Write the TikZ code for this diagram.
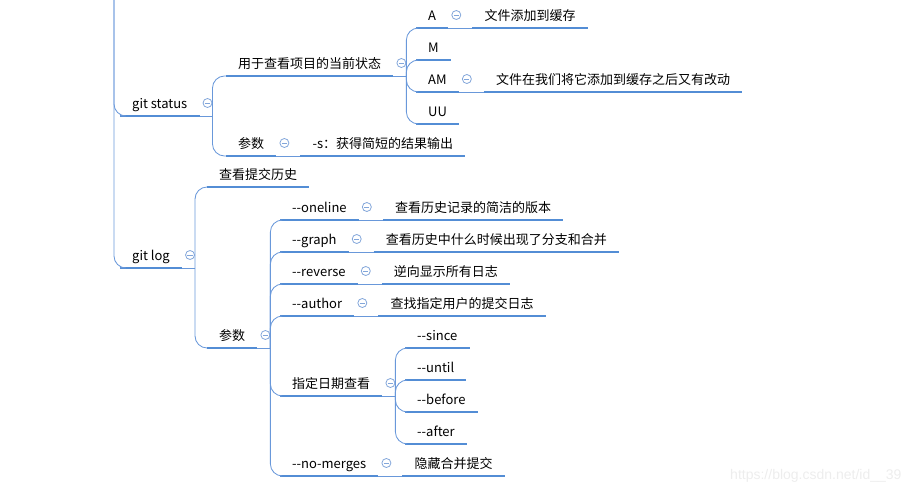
\documentclass[tikz,border=0pt]{standalone}
\usepackage{fontspec}
\setmainfont{Noto Sans CJK SC}
\newfontfamily\wmfont{Liberation Sans}
\usepackage{tikz}
\usetikzlibrary{positioning,calc}
\definecolor{lineclr}{RGB}{83,141,213}
\definecolor{linkclr}{RGB}{105,152,218}
\definecolor{foldclr}{RGB}{130,166,218}
\tikzset{
    uline/.style={draw=lineclr,line width=2.6pt},
    topic/.style={anchor=south west,inner xsep=12pt,inner ysep=4pt,text height=10pt,text depth=3.5pt,
        font=\fontsize{13pt}{16pt}\selectfont,
        append after command={(\tikzlastnode.south west) edge[uline] (\tikzlastnode.south east)}},
    link/.style={draw=linkclr,line width=0.85pt,rounded corners=12pt},
    fold/.style={circle,draw=foldclr,line width=0.8pt,minimum size=9pt,inner sep=0pt,
        path picture={\draw[foldclr,line width=0.8pt] ([xshift=-2.6pt]path picture bounding box.center) -- ([xshift=2.6pt]path picture bounding box.center);}},
}
\begin{document}
\begin{tikzpicture}[x=1pt,y=-1pt]
\useasboundingbox (0,0) rectangle (914,492);
\coordinate (root) at (114,-40);

% git status
\node[topic] (gs) at (120,116) {git status};
\node[topic] (gs1) at (226,76) {用于查看项目的当前状态};
\node[topic] (gs2) at (226,156) {参数};
\node[topic,right=24pt of gs2.south east,anchor=south west] (gs2d) {-s：获得简短的结果输出};
\node[topic] (stA) at (416,28) {A};
\node[topic] (stM) at (416,60) {M};
\node[topic] (stAM) at (416,92) {AM};
\node[topic] (stUU) at (416,124) {UU};
\node[topic,right=24pt of stA.south east,anchor=south west] (stAd) {文件添加到缓存};
\node[topic,right=25pt of stAM.south east,anchor=south west] (stAMd) {文件在我们将它添加到缓存之后又有改动};

% git log
\node[topic] (gl) at (120,268) {git log};
\node[topic] (gl1) at (207,187) {查看提交历史};
\node[topic] (gl2) at (207,348) {参数};
\node[topic] (oneline) at (280,220) {-{}-oneline};
\node[topic] (graph) at (280,252) {-{}-graph};
\node[topic] (reverse) at (280,284) {-{}-reverse};
\node[topic] (author) at (280,316) {-{}-author};
\node[topic] (date) at (280,396) {指定日期查看};
\node[topic] (nomerge) at (280,476) {-{}-no-merges};
\node[topic,right=24pt of oneline.south east,anchor=south west] (onelined) {查看历史记录的简洁的版本};
\node[topic,right=25pt of graph.south east,anchor=south west] (graphd) {查看历史中什么时候出现了分支和合并};
\node[topic,right=24pt of reverse.south east,anchor=south west] (reversed) {逆向显示所有日志};
\node[topic,right=24pt of author.south east,anchor=south west] (authord) {查找指定用户的提交日志};
\node[topic,right=24pt of nomerge.south east,anchor=south west] (nomerged) {隐藏合并提交};
\node[topic] (since) at (405,348) {-{}-since};
\node[topic] (until) at (405,380) {-{}-until};
\node[topic] (before) at (405,412) {-{}-before};
\node[topic] (after) at (405,444) {-{}-after};

% junctions
\coordinate (gsj) at ([xshift=13pt]gs.south east);
\coordinate (gs1j) at ([xshift=13pt]gs1.south east);
\coordinate (glj) at ([xshift=13pt]gl.south east);
\coordinate (gl2j) at ([xshift=13pt]gl2.south east);
\coordinate (datej) at ([xshift=13pt]date.south east);

% fold marks
\foreach \n in {gs,gs1,gs2,stA,stAM,gl,gl2,oneline,graph,reverse,author,date,nomerge}
    \node[fold] (\n f) at ([shift={(8,-13)}]\n.south east) {};

% connectors
\draw[link] (root) |- (gs.south west);
\draw[link] (root) |- (gl.south west);
\draw[link] (gs.south east) -- (gsj);
\foreach \c in {gs1,gs2} \draw[link] (gsj) |- (\c.south west);
\draw[link] (gs1.south east) -- (gs1j);
\foreach \c in {stA,stM,stAM,stUU} \draw[link] (gs1j) |- (\c.south west);
\draw[link] (gs2.south east) -- (gs2d.south west);
\draw[link] (stA.south east) -- (stAd.south west);
\draw[link] (stAM.south east) -- (stAMd.south west);
\draw[link] (gl.south east) -- (glj);
\foreach \c in {gl1,gl2} \draw[link] (glj) |- (\c.south west);
\draw[link] (gl2.south east) -- (gl2j);
\foreach \c in {oneline,graph,reverse,author,date,nomerge} \draw[link] (gl2j) |- (\c.south west);
\foreach \c in {oneline,graph,reverse,author,nomerge} \draw[link] (\c.south east) -- (\c d.south west);
\draw[link] (date.south east) -- (datej);
\foreach \c in {since,until,before,after} \draw[link] (datej) |- (\c.south west);

\node[anchor=base east,text=black!7,font=\wmfont\fontsize{14pt}{16pt}\selectfont] (mark) at (905,479) {https://blog.csdn.net/id\_\_39};
\end{tikzpicture}
\end{document}
